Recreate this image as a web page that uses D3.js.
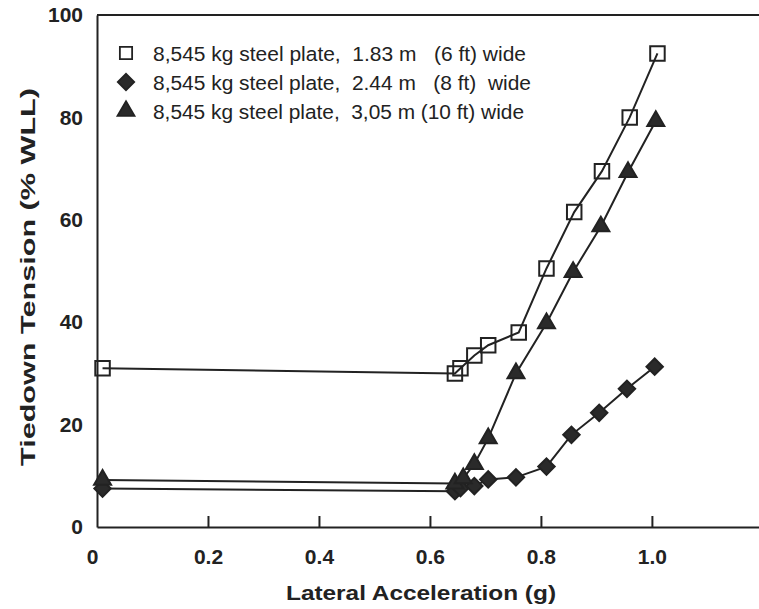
<!DOCTYPE html>
<html>
<head>
<meta charset="utf-8">
<script src="https://cdn.jsdelivr.net/npm/d3@7"></script>
<style>
  body { margin: 0; background: #fff; }
  svg { display: block; }
</style>
</head>
<body>
<svg id="chart"></svg>
<script>
// Chart size
const width = 759;
const height = 609;
const margin = { top: 15, right: 0, bottom: 82, left: 97 };

// Data
const seriesNames = [
    "8,545 kg steel plate,  1.83 m   (6 ft) wide",
    "8,545 kg steel plate,  2.44 m   (8 ft)  wide",
    "8,545 kg steel plate,  3,05 m (10 ft) wide"
];
const xSquare = [0.01, 0.645, 0.655, 0.68, 0.705, 0.76, 0.81, 0.86, 0.91, 0.96, 1.01];
const ySquare = [31, 30, 31, 33.5, 35.5, 38, 50.5, 61.5, 69.5, 80, 92.5];
const xDiamond = [0.01, 0.645, 0.655, 0.68, 0.705, 0.755, 0.81, 0.855, 0.905, 0.955, 1.005];
const yDiamond = [7.5, 7, 7.6, 8, 9.3, 9.7, 11.8, 18, 22.3, 27, 31.3];
const xTriangle = [0.01, 0.645, 0.66, 0.68, 0.705, 0.755, 0.81, 0.858, 0.908, 0.957, 1.007];
const yTriangle = [9.2, 8.5, 9.5, 12.3, 17.3, 30, 39.8, 49.8, 58.7, 69.3, 79.3];
const xTicks = [0, 0.2, 0.4, 0.6, 0.8, 1.0];
const yTicks = [0, 20, 40, 60, 80, 100];

const ink = "#222";
const font = "'Liberation Sans', Arial, sans-serif";

// marker look per series (rotate 45 turns the square into the diamond)
const series = [
    { name: seriesNames[0], xs: xSquare, ys: ySquare, shape: d3.symbolSquare, rot: 0, open: true, size: 210, legendLen: 373 },
    { name: seriesNames[1], xs: xDiamond, ys: yDiamond, shape: d3.symbolSquare, rot: 45, open: false, size: 135, legendLen: 378 },
    { name: seriesNames[2], xs: xTriangle, ys: yTriangle, shape: d3.symbolTriangle, rot: 0, open: false, size: 125, legendLen: 371 }
];

const svg = d3.select("#chart")
    .attr("width", width)
    .attr("height", height);

const xScale = d3.scaleLinear()
    .domain([0, 1.193])
    .range([margin.left, width - margin.right]);

const yScale = d3.scaleLinear()
    .domain([0, 100])
    .range([height - margin.bottom, margin.top]);

// X axis: ticks point up into the plot
const xAxis = d3.axisBottom(xScale)
    .tickValues(xTicks)
    .tickSize(0)
    .tickPadding(22)
    .tickFormat(d => d === 0 ? "0" : d3.format(".1f")(d));

const gX = svg.append("g")
    .attr("transform", `translate(0,${height - margin.bottom})`)
    .call(xAxis);
gX.select(".domain").attr("stroke", ink).attr("stroke-width", 2);
gX.selectAll(".tick text")
    .attr("fill", ink)
    .style("font", `bold 21px ${font}`);
gX.selectAll(".tick").filter(d => d > 0)
    .append("line")
    .attr("y1", 0).attr("y2", -11)
    .attr("stroke", ink).attr("stroke-width", 2);
gX.selectAll(".tick").filter(d => d === 0).select("text").attr("x", -5);

// Y axis
const yAxis = d3.axisLeft(yScale)
    .tickValues(yTicks)
    .tickSize(0)
    .tickPadding(14);

const gY = svg.append("g")
    .attr("transform", `translate(${margin.left},0)`)
    .call(yAxis);
gY.select(".domain").attr("stroke", ink).attr("stroke-width", 2);
gY.selectAll(".tick text")
    .attr("fill", ink)
    .style("font", `bold 21px ${font}`);

// Top frame line
svg.append("line")
    .attr("x1", margin.left).attr("x2", width)
    .attr("y1", yScale(100)).attr("y2", yScale(100))
    .attr("stroke", ink).attr("stroke-width", 2);

// Axis titles
svg.append("text")
    .attr("x", 286).attr("y", 600)
    .attr("textLength", 270)
    .attr("lengthAdjust", "spacingAndGlyphs")
    .attr("fill", ink)
    .style("font", `bold 21px ${font}`)
    .text("Lateral Acceleration (g)");

svg.append("text")
    .attr("transform", "translate(35,466) rotate(-90)")
    .attr("textLength", 378)
    .attr("lengthAdjust", "spacingAndGlyphs")
    .attr("fill", ink)
    .style("font", `bold 21px ${font}`)
    .text("Tiedown Tension (% WLL)");

// Lines and markers
const line = d3.line()
    .x(d => xScale(d[0]))
    .y(d => yScale(d[1]));

series.forEach(s => {
    const pts = s.xs.map((x, i) => [x, s.ys[i]]);
    svg.append("path")
        .datum(pts)
        .attr("d", line)
        .attr("fill", "none")
        .attr("stroke", ink)
        .attr("stroke-width", 2);
});

series.forEach(s => {
    const pts = s.xs.map((x, i) => [x, s.ys[i]]);
    svg.append("g").selectAll("path")
        .data(pts)
        .join("path")
        .attr("transform", d => `translate(${xScale(d[0])},${yScale(d[1])}) rotate(${s.rot})`)
        .attr("d", d3.symbol().type(s.shape).size(s.size))
        .attr("fill", s.open ? "none" : "#2a2a2a")
        .attr("stroke", ink)
        .attr("stroke-width", 2);
});

// Legend
const legend = svg.append("g").attr("transform", "translate(126,53)");
series.forEach((s, i) => {
    const row = legend.append("g").attr("transform", `translate(0,${i * 29})`);
    row.append("path")
        .attr("transform", `rotate(${s.rot})`)
        .attr("d", d3.symbol().type(s.shape).size(s.open ? 150 : s.size))
        .attr("fill", s.open ? "#fff" : "#2a2a2a")
        .attr("stroke", ink)
        .attr("stroke-width", 1.8);
    row.append("text")
        .attr("x", 27).attr("y", 8)
        .attr("textLength", s.legendLen)
        .attr("lengthAdjust", "spacingAndGlyphs")
        .attr("fill", ink)
        .attr("xml:space", "preserve")
        .style("white-space", "pre")
        .style("font", `20.5px ${font}`)
        .style("font-weight", 500)
        .text(s.name);
});
</script>
</body>
</html>
